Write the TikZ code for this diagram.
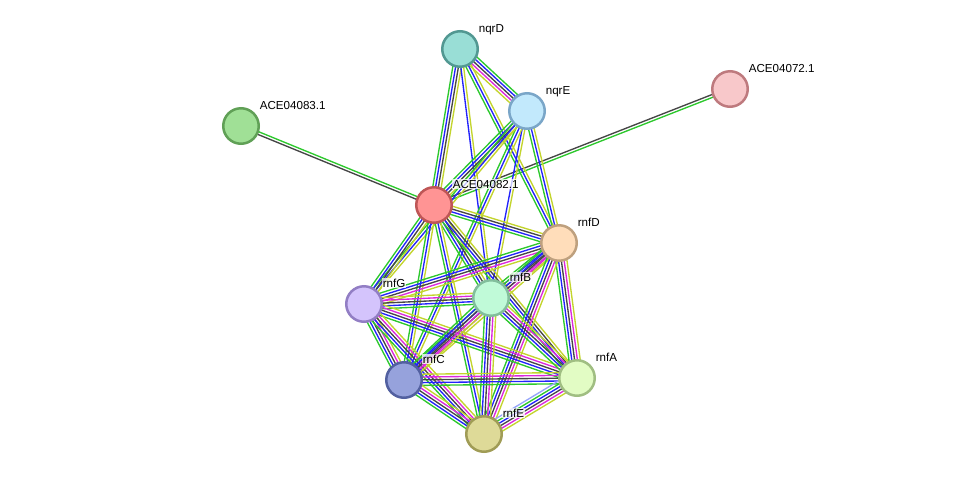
\documentclass[tikz,border=0pt]{standalone}
\usepackage{fontspec}
\setmainfont{Liberation Sans}
\usepackage{tikz}
\usetikzlibrary{calc}
\usetikzlibrary{backgrounds}
% edge colours
\definecolor{sgreen}{RGB}{45,200,45}
\definecolor{sblue}{RGB}{35,35,250}
\definecolor{sblack}{RGB}{70,70,70}
\definecolor{smag}{RGB}{220,40,220}
\definecolor{syel}{RGB}{195,212,45}
\definecolor{scyan}{RGB}{150,165,250}
\tikzset{
    prot/.style={circle, minimum size=35.5pt, inner sep=0pt, line width=2.5pt},
    plbl/.style={anchor=base west, inner sep=0.6pt, fill=white, fill opacity=0.75, text opacity=1, font=\fontsize{11.6}{13}\selectfont},
    link/.style={line width=1.35pt}
}
% bundle of parallel evidence lines between two proteins
\newcommand{\plink}[3]{%
    \foreach \c [count=\k] in {#3}{\global\let\nlinks\k}%
    \foreach \c [count=\k] in {#3}{%
        \pgfmathsetmacro{\off}{(\k-(\nlinks+1)/2)*2.8}%
        \draw[link, draw=\c] ($(#1)!\off pt!90:(#2)$) -- ($(#2)!\off pt!-90:(#1)$);
    }%
}

\begin{document}
\begin{tikzpicture}[x=1pt, y=-1pt]
    \useasboundingbox (0,0) rectangle (975,480);

    \node[prot, fill={rgb,255:red,153;green,222;blue,214}, draw={rgb,255:red,82;green,152;blue,146}] (nqrD) at (460,49) {};
    \node[prot, fill={rgb,255:red,194;green,233;blue,252}, draw={rgb,255:red,122;green,166;blue,200}] (nqrE) at (527,111) {};
    \node[prot, fill={rgb,255:red,248;green,200;blue,202}, draw={rgb,255:red,190;green,122;blue,126}] (ace72) at (730,89) {};
    \node[prot, fill={rgb,255:red,160;green,224;blue,150}, draw={rgb,255:red,96;green,160;blue,86}] (ace83) at (241,126) {};
    \node[prot, fill={rgb,255:red,255;green,148;blue,148}, draw={rgb,255:red,190;green,86;blue,86}] (ace82) at (434,205) {};
    \node[prot, fill={rgb,255:red,255;green,221;blue,186}, draw={rgb,255:red,190;green,160;blue,126}] (rnfD) at (559,243) {};
    \node[prot, fill={rgb,255:red,212;green,196;blue,252}, draw={rgb,255:red,146;green,126;blue,196}] (rnfG) at (364,304) {};
    \node[prot, fill={rgb,255:red,192;green,250;blue,216}, draw={rgb,255:red,130;green,190;blue,156}] (rnfB) at (491,298) {};
    \node[prot, fill={rgb,255:red,150;green,162;blue,220}, draw={rgb,255:red,82;green,96;blue,160}] (rnfC) at (404,380) {};
    \node[prot, fill={rgb,255:red,226;green,252;blue,196}, draw={rgb,255:red,160;green,190;blue,130}] (rnfA) at (577,378) {};
    \node[prot, fill={rgb,255:red,222;green,218;blue,152}, draw={rgb,255:red,160;green,156;blue,86}] (rnfE) at (484,434) {};

    \node[plbl] (lnqrD) at ($(nqrD)+(18,-17)$) {nqrD};
    \node[plbl] (lnqrE) at ($(nqrE)+(18,-17)$) {nqrE};
    \node[plbl] (lace72) at ($(ace72)+(18,-17)$) {ACE04072.1};
    \node[plbl] (lace83) at ($(ace83)+(18,-17)$) {ACE04083.1};
    \node[plbl] (lace82) at ($(ace82)+(18,-17)$) {ACE04082.1};
    \node[plbl] (lrnfD) at ($(rnfD)+(18,-17)$) {rnfD};
    \node[plbl] (lrnfG) at ($(rnfG)+(18,-17)$) {rnfG};
    \node[plbl] (lrnfB) at ($(rnfB)+(18,-17)$) {rnfB};
    \node[plbl] (lrnfC) at ($(rnfC)+(18,-17)$) {rnfC};
    \node[plbl] (lrnfA) at ($(rnfA)+(18,-17)$) {rnfA};
    \node[plbl] (lrnfE) at ($(rnfE)+(18,-17)$) {rnfE};

    \begin{scope}[on background layer]
        \plink{ace83}{ace82}{sblack,sgreen}
        \plink{ace72}{ace82}{sblack,sgreen}
        \plink{nqrD}{nqrE}{syel,smag,sblack,sblue,sgreen}
        \plink{nqrD}{ace82}{sgreen,sblue,sblack,syel}
        \plink{nqrD}{rnfB}{sblue,syel}
        \plink{nqrD}{rnfD}{sgreen,sblue,syel}
        \plink{nqrE}{ace82}{sgreen,sblue,sblack,syel}
        \plink{nqrE}{rnfD}{sgreen,sblue,syel}
        \plink{nqrE}{rnfB}{sblue,syel}
        \plink{nqrE}{rnfC}{sgreen,sblue,syel}
        \plink{nqrE}{rnfG}{sgreen,sblue,syel}
        \plink{ace82}{rnfD}{sgreen,sblue,sblack,syel}
        \plink{ace82}{rnfG}{sgreen,sblue,sblack,syel}
        \plink{ace82}{rnfB}{sgreen,sblue,sblack,syel}
        \plink{ace82}{rnfC}{sgreen,sblue,syel}
        \plink{ace82}{rnfA}{sgreen,sblue,sblack,syel}
        \plink{ace82}{rnfE}{sgreen,sblue,syel}
        \plink{rnfD}{rnfG}{sgreen,sblue,sblack,smag,syel}
        \plink{rnfD}{rnfB}{sgreen,sblue,sblack,smag,syel}
        \plink{rnfD}{rnfC}{sgreen,sblue,sblack,smag,syel}
        \plink{rnfD}{rnfA}{sgreen,sblue,sblack,smag,syel}
        \plink{rnfD}{rnfE}{sgreen,sblue,sblack,smag,syel}
        \plink{rnfG}{rnfB}{sgreen,sblue,sblack,smag,syel}
        \plink{rnfG}{rnfC}{sgreen,sblue,sblack,smag,syel}
        \plink{rnfG}{rnfA}{sgreen,sblue,sblack,smag,syel}
        \plink{rnfG}{rnfE}{sgreen,sblue,sblack,smag,syel}
        \plink{rnfB}{rnfC}{sgreen,sblue,sblack,smag,syel}
        \plink{rnfB}{rnfA}{sgreen,sblue,sblack,smag,syel}
        \plink{rnfB}{rnfE}{sgreen,sblue,sblack,smag,syel}
        \plink{rnfC}{rnfA}{sgreen,sblue,sblack,smag,syel}
        \plink{rnfC}{rnfE}{sgreen,sblue,sblack,smag,syel}
        \plink{rnfA}{rnfE}{scyan,sgreen,sblue,sblack,smag,syel}
    \end{scope}
\end{tikzpicture}
\end{document}
